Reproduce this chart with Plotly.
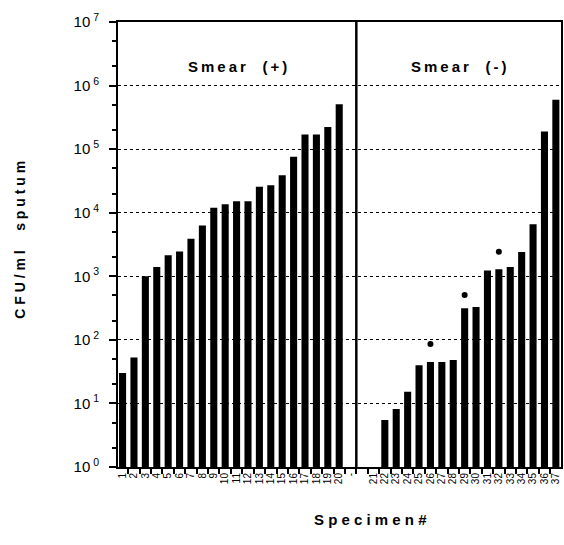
import plotly.graph_objects as go

# ---- data ----
smear_pos_labels = [str(i) for i in range(1, 21)]
smear_pos_values = [30, 53, 1000, 1400, 2150, 2450, 3900, 6300, 12000, 13600,
                    15200, 15200, 25500, 27000, 39000, 76000, 170000, 170000, 224000, 510000]
gap_keys = ["gap1", "gap2"]
gap_labels = ["-", ""]
smear_neg_labels = [str(i) for i in range(21, 38)]
smear_neg_values = [None, 5.5, 8.2, 15.3, 40, 45, 45, 48, 313, 330,
                    1230, 1290, 1400, 2400, 6600, 190000, 600000]
dot_specimens = ["26", "29", "32"]
dot_values = [86, 510, 2430]
y_exponents = [0, 1, 2, 3, 4, 5, 6, 7]

categories = smear_pos_labels + gap_keys + smear_neg_labels
tick_text = smear_pos_labels + gap_labels + smear_neg_labels
values = smear_pos_values + [None, None] + smear_neg_values

FONT = "Liberation Sans, Arial, Helvetica, sans-serif"

fig = go.Figure()
fig.add_trace(go.Bar(x=categories, y=values, marker=dict(color="black", line=dict(width=0)),
                     showlegend=False))
fig.add_trace(go.Scatter(x=dot_specimens, y=dot_values, mode="markers",
                         marker=dict(color="black", size=6), showlegend=False))

sep_index = categories.index("gap1") + 0.5
fig.add_shape(type="line", xref="x", yref="y", x0=sep_index, x1=sep_index,
              y0=10 ** y_exponents[0], y1=10 ** y_exponents[-1],
              line=dict(color="black", width=2.5))

x_lo = -0.4
x_hi = len(categories) - 0.55

fig.update_layout(
    width=564, height=545,
    margin=dict(l=118, r=1, t=22, b=78),
    paper_bgcolor="white", plot_bgcolor="white",
    bargap=0.38,
    font=dict(family=FONT, color="black"),
    xaxis=dict(
        type="category", categoryorder="array", categoryarray=categories,
        tickvals=categories, ticktext=tick_text, tickangle=-90,
        tickfont=dict(size=10, family=FONT), tickson="boundaries",
        ticks="outside", ticklen=5, tickwidth=1.5, tickcolor="black",
        range=[x_lo, x_hi],
        showline=True, linecolor="black", linewidth=2, mirror=True,
        showgrid=False, zeroline=False,
    ),
    yaxis=dict(
        type="log", range=[y_exponents[0], y_exponents[-1]],
        tickvals=[10 ** e for e in y_exponents],
        ticktext=["10<sup>\u00a0%d</sup>" % e for e in y_exponents],
        tickfont=dict(size=15, family=FONT),
        ticks="outside", ticklen=7, tickwidth=2, tickcolor="black",
        ticklabelstandoff=7,
        minor=dict(ticks="outside", ticklen=4, tickwidth=1.5, tickcolor="black", showgrid=False),
        showline=True, linecolor="black", linewidth=2, mirror=True,
        showgrid=True, gridcolor="black", gridwidth=1, griddash="dot",
        zeroline=False,
    ),
)

left_center = (x_lo + sep_index) / 2
right_center = (sep_index + x_hi) / 2
fig.add_annotation(x=left_center, y=6.3, xref="x", yref="y", showarrow=False,
                   text="<b>S\u2009m\u2009e\u2009a\u2009r\u00a0\u00a0\u00a0\u00a0(\u2009+\u2009)</b>",
                   font=dict(size=15, family=FONT))
fig.add_annotation(x=right_center, y=6.3, xref="x", yref="y", showarrow=False,
                   text="<b>S\u2009m\u2009e\u2009a\u2009r\u00a0\u00a0\u00a0\u00a0(\u2009-\u2009)</b>",
                   font=dict(size=15, family=FONT))
fig.add_annotation(x=-0.222, y=0.51, xref="paper", yref="paper", showarrow=False,
                   textangle=-90, xanchor="center", yanchor="middle",
                   text="<b>C\u00a0F\u00a0U\u00a0/\u00a0m\u00a0l\u00a0\u00a0\u00a0\u00a0\u00a0s\u00a0p\u00a0u\u00a0t\u00a0u\u00a0m</b>",
                   font=dict(size=14, family=FONT))
fig.add_annotation(x=0.569, y=-0.119, xref="paper", yref="paper", showarrow=False,
                   xanchor="center", yanchor="middle",
                   text="<b>S p e c i m e n #</b>",
                   font=dict(size=15, family=FONT))

fig.write_html("out.html", config={"displayModeBar": False},
               post_script="document.body.style.margin='0';document.body.style.overflow='hidden';")
